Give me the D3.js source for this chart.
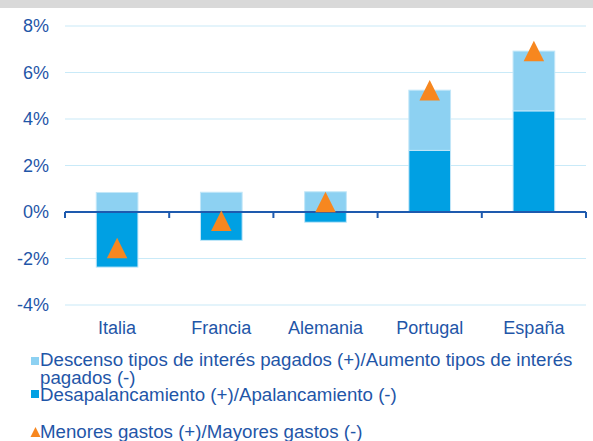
<!DOCTYPE html>
<html>
<head>
<meta charset="utf-8">
<script src="https://cdn.jsdelivr.net/npm/d3@7"></script>
<style>
body { margin:0; background:#fff; }
svg text { font-family: "Liberation Sans", Arial, sans-serif; }
</style>
</head>
<body>
<script>
var w = 593, h = 441;

// datos (%)
var paises = ["Italia", "Francia", "Alemania", "Portugal", "España"];
var tipos = [0.84, 0.85, 0.87, 2.59, 2.57];          // descenso tipos de interes pagados
var apalanc = [-2.37, -1.22, -0.44, 2.65, 4.35];     // desapalancamiento
var gastos = [-1.55, -0.38, 0.43, 5.24, 6.92];       // menores gastos
var yTicks = [-4, -2, 0, 2, 4, 6, 8];
var leyenda = [
  "Descenso tipos de interés pagados (+)/Aumento tipos de interés",
  "pagados (-)",
  "Desapalancamiento (+)/Apalancamiento (-)",
  "Menores gastos (+)/Mayores gastos (-)"
];

var azulTexto = "#1F56A8";
var claro = "#8DD1F2", oscuro = "#00A0E3", naranja = "#F7871F";

var svg = d3.select("body").append("svg")
  .attr("width", w).attr("height", h);

// franja gris superior
svg.append("rect").attr("x", 0).attr("y", 0).attr("width", w).attr("height", 8)
  .attr("fill", "#D9D9D9");

var x0 = 65, x1 = 586;
var x = d3.scaleBand().domain(paises).range([x0, x1]).paddingInner(0.6).paddingOuter(0.3);
var y = d3.scaleLinear().domain([-4, 8]).range([305, 26]);

// rejilla
svg.append("g").selectAll("line")
  .data(yTicks.filter(function(d){ return d != 0; }))
  .enter().append("line")
  .attr("x1", x0).attr("x2", x1)
  .attr("y1", function(d){ return y(d); }).attr("y2", function(d){ return y(d); })
  .attr("stroke", "#C9EAF8").attr("stroke-width", 1.2);

// etiquetas eje y
svg.append("g").selectAll("text")
  .data(yTicks)
  .enter().append("text")
  .attr("x", 49).attr("y", function(d){ return y(d); })
  .attr("dy", "0.36em")
  .attr("text-anchor", "end")
  .attr("font-size", "18px")
  .attr("fill", azulTexto)
  .text(function(d){ return d + "%"; });

// barras apiladas (divergentes)
var filas = paises.map(function(p, i){ return { pais: p, tipos: tipos[i], apalanc: apalanc[i] }; });
var stack = d3.stack().keys(["apalanc", "tipos"]).offset(d3.stackOffsetDiverging);
var series = stack(filas);
var colores = { apalanc: oscuro, tipos: claro };

svg.append("g").selectAll("g")
  .data(series)
  .enter().append("g")
  .attr("fill", function(s){ return colores[s.key]; })
  .selectAll("rect")
  .data(function(s){ return s; })
  .enter().append("rect")
  .attr("x", function(d){ return x(d.data.pais); })
  .attr("width", x.bandwidth())
  .attr("y", function(d){ return y(Math.max(d[0], d[1])); })
  .attr("height", function(d){ return Math.abs(y(d[0]) - y(d[1])); })
  .attr("stroke", "#C2E7F8").attr("stroke-width", 1);

// eje cero
var axisCol = "#1E5AAE";
svg.append("line").attr("x1", x0).attr("x2", x1).attr("y1", y(0)).attr("y2", y(0))
  .attr("stroke", axisCol).attr("stroke-width", 2);
var limites = [x0].concat(paises.map(function(p){ return x(p) + x.bandwidth() + x.step() * x.paddingInner() / 2; }));
limites[limites.length - 1] = x1;
svg.append("g").selectAll("line").data(limites).enter().append("line")
  .attr("x1", function(d){ return d; }).attr("x2", function(d){ return d; })
  .attr("y1", y(0)).attr("y2", y(0) + 6)
  .attr("stroke", axisCol).attr("stroke-width", 2);

// triangulos
function tri(cx, cy, s) {
  return "M" + cx + "," + (cy - s/2) + "L" + (cx + s/2) + "," + (cy + s/2) + "L" + (cx - s/2) + "," + (cy + s/2) + "Z";
}
svg.append("g").selectAll("path")
  .data(gastos)
  .enter().append("path")
  .attr("d", function(d, i){ return tri(x(paises[i]) + x.bandwidth()/2, y(d), 20.5); })
  .attr("fill", naranja);

// etiquetas eje x
svg.append("g").selectAll("text")
  .data(paises)
  .enter().append("text")
  .attr("x", function(d){ return x(d) + x.bandwidth()/2; })
  .attr("y", 334)
  .attr("text-anchor", "middle")
  .attr("font-size", "18px")
  .attr("fill", azulTexto)
  .text(function(d){ return d; });

// leyenda
var lg = svg.append("g");
lg.append("rect").attr("x", 31).attr("y", 357).attr("width", 8).attr("height", 8).attr("fill", claro);
lg.append("rect").attr("x", 31).attr("y", 390).attr("width", 8).attr("height", 8).attr("fill", oscuro);
lg.append("path").attr("d", tri(35.5, 432, 10)).attr("fill", naranja);
var ly = [366, 384, 401, 438];
lg.selectAll("text").data(leyenda).enter().append("text")
  .attr("x", 40).attr("y", function(d, i){ return ly[i]; })
  .attr("font-size", "18.7px")
  .attr("fill", azulTexto)
  .text(function(d){ return d; });
</script>
</body>
</html>
